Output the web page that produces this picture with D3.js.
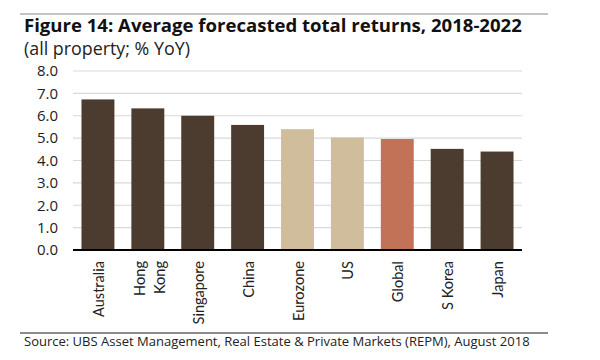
<!DOCTYPE html>
<html><head><meta charset="utf-8">
<script src="https://cdn.jsdelivr.net/npm/d3@7"></script>
<style>body{margin:0;background:#fff}svg{display:block}text{font-family:"Open Sans","Noto Sans",sans-serif}</style>
</head><body><svg id="c" width="600" height="360"></svg>
<script>
const categories = ["Australia","Hong Kong","Singapore","China","Eurozone","US","Global","S Korea","Japan"];
const values = [6.73, 6.33, 6.0, 5.59, 5.4, 5.03, 4.96, 4.52, 4.4];
const groups = ["asia","asia","asia","asia","west","west","global","asia","asia"];
const yTicks = [0,1,2,3,4,5,6,7,8];
const title = "Figure 14: Average forecasted total returns, 2018-2022";
const subtitle = "(all property; % YoY)";
const source = "Source: UBS Asset Management, Real Estate & Private Markets (REPM), August 2018";

const colors = {asia:"#4b3c2f", west:"#cfbd9c", global:"#c17257"};
const svg = d3.select("#c");
const m = {left:73, right:522, top:71, bottom:250};

function fit(sel, w){
  const l = sel.node().getComputedTextLength();
  const fs = parseFloat(sel.attr("font-size"));
  sel.attr("font-size", (fs*w/l).toFixed(2));
}

svg.append("line").attr("x1",20).attr("x2",548).attr("y1",14).attr("y2",14).attr("stroke","#c4c4c4").attr("stroke-width",2);
fit(svg.append("text").attr("x",24).attr("y",32).attr("font-size",16).attr("font-weight","bold").attr("fill","#111").text(title), 498);
fit(svg.append("text").attr("x",24).attr("y",55).attr("font-size",15).attr("fill","#222").text(subtitle), 166);

const x = d3.scaleBand().domain(categories).range([m.left, m.right]).paddingInner(0.34).paddingOuter(0.17);
const y = d3.scaleLinear().domain([0,8]).range([m.bottom, m.top]);

svg.append("g").selectAll("line").data(yTicks.slice(1)).join("line")
 .attr("x1",m.left).attr("x2",m.right).attr("y1",d=>y(d)).attr("y2",d=>y(d))
 .attr("stroke","#d9d9d9").attr("stroke-width",1.2);

const yAxis = d3.axisLeft(y).tickValues(yTicks).tickFormat(d3.format(".1f")).tickSize(0).tickPadding(15);
const ya = svg.append("g").attr("transform",`translate(${m.left},0)`).call(yAxis);
ya.select(".domain").remove();
ya.selectAll("text").attr("font-size",15).attr("fill","#222").style("font-family","'Open Sans',sans-serif");

svg.selectAll("rect.bar").data(categories).join("rect").attr("class","bar")
 .attr("x",d=>x(d)).attr("width",x.bandwidth())
 .attr("y",(d,i)=>y(values[i])).attr("height",(d,i)=>y(0)-y(values[i]))
 .attr("fill",(d,i)=>colors[groups[i]]);

svg.append("line").attr("x1",m.left).attr("x2",m.right).attr("y1",y(0)).attr("y2",y(0)).attr("stroke","#000").attr("stroke-width",2);

const xl = svg.selectAll("text.xl").data(categories).join("text").attr("class","xl")
 .attr("transform",d=>`translate(${x(d)+x.bandwidth()/2},261) rotate(-90)`)
 .attr("text-anchor","end").attr("font-size",15).attr("fill","#222")
 .style("font-family","Lato,'Open Sans',sans-serif");
xl.each(function(d){
  const parts = d === "Hong Kong" ? ["Hong","Kong"] : [d];
  const t = d3.select(this);
  parts.forEach((p,i)=>{
    t.append("tspan").attr("x",0).attr("y", parts.length===1 ? 6 : (i===0 ? -3 : 17)).text(p);
  });
});
const ausLen = xl.filter(d=>d==="Australia").node().getComputedTextLength();
xl.attr("font-size", (15*56/ausLen).toFixed(2));

svg.append("line").attr("x1",20).attr("x2",548).attr("y1",333).attr("y2",333).attr("stroke","#666").attr("stroke-width",1.5);
fit(svg.append("text").attr("x",24).attr("y",346).attr("font-size",12).attr("fill","#222").text(source), 506);
</script></body></html>
